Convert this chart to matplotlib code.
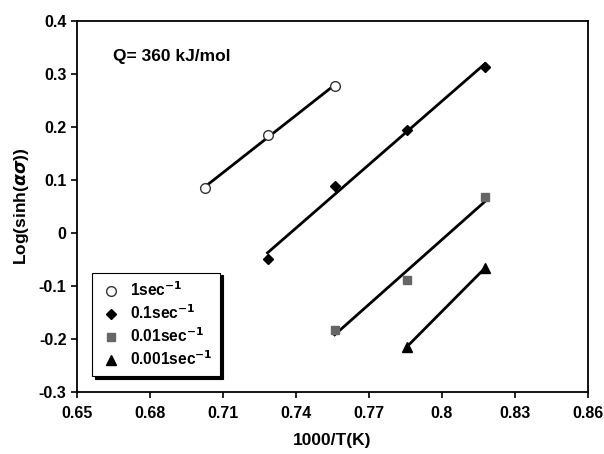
import numpy as np
import matplotlib
matplotlib.use('Agg')
import matplotlib.pyplot as plt

plt.rcParams['font.family'] = ['Liberation Sans', 'DejaVu Sans']
plt.rcParams['font.weight'] = 'bold'

# 1000/T for 1423, 1373, 1323, 1273, 1223 K
x_1 = [0.7027, 0.7283, 0.7559]
y_1 = [0.085, 0.185, 0.277]

x_01 = [0.7283, 0.7559, 0.7855, 0.8177]
y_01 = [-0.049, 0.088, 0.194, 0.313]

x_001 = [0.7559, 0.7855, 0.8177]
y_001 = [-0.183, -0.089, 0.068]

x_0001 = [0.7855, 0.8177]
y_0001 = [-0.215, -0.066]

series = [
    (x_1, y_1, 'o', 'white', '#333333', 7, '1sec$^{\\mathbf{-1}}$'),
    (x_01, y_01, 'D', 'black', 'black', 5.5, '0.1sec$^{\\mathbf{-1}}$'),
    (x_001, y_001, 's', '#666666', '#666666', 6, '0.01sec$^{\\mathbf{-1}}$'),
    (x_0001, y_0001, '^', 'black', 'black', 6.5, '0.001sec$^{\\mathbf{-1}}$'),
]

fig = plt.figure(figsize=(6.04, 4.54), dpi=100)
ax = fig.add_axes([0.1275, 0.1366, 0.846, 0.8171])

for xs, ys, m, fc, ec, ms, lab in series:
    xs = np.array(xs)
    k, b = np.polyfit(xs, ys, 1)
    ax.plot(xs, k * xs + b, color='black', lw=2, zorder=2)
    ax.plot(xs, ys, linestyle='none', marker=m, markerfacecolor=fc,
            markeredgecolor=ec, markersize=ms, zorder=3, label=lab)

ax.set_xlim(0.65, 0.86)
ax.set_ylim(-0.3, 0.4)
ax.set_xticks([0.65, 0.68, 0.71, 0.74, 0.77, 0.80, 0.83, 0.86])
ax.set_xticklabels(['0.65', '0.68', '0.71', '0.74', '0.77', '0.8', '0.83', '0.86'])
ax.set_yticks([-0.3, -0.2, -0.1, 0, 0.1, 0.2, 0.3, 0.4])
ax.set_yticklabels(['-0.3', '-0.2', '-0.1', '0', '0.1', '0.2', '0.3', '0.4'])
ax.tick_params(direction='out', length=4, width=1.2, labelsize=11.5,
               top=False, right=False)
ax.tick_params(axis='x', pad=6)
for s in ax.spines.values():
    s.set_linewidth(1.3)

ax.set_xlabel('1000/T(K)', fontsize=12.5, fontweight='bold', labelpad=9)
ax.set_ylabel('Log(sinh($\\alpha\\sigma$))', fontsize=12.5, fontweight='bold', labelpad=6)

ax.text(0.07, 0.905, 'Q= 360 kJ/mol', transform=ax.transAxes,
        fontsize=12.5, fontweight='bold', va='center')

leg = ax.legend(loc='upper left', bbox_to_anchor=(0.03, 0.322), fontsize=11.2,
                frameon=True, fancybox=False, shadow={'color': 'black', 'alpha': 1},
                edgecolor='black', handletextpad=0.45, borderpad=0.5,
                labelspacing=0.28, handlelength=1.45, borderaxespad=0)
leg.get_frame().set_linewidth(0.8)

fig.savefig('out.png', dpi=100)
